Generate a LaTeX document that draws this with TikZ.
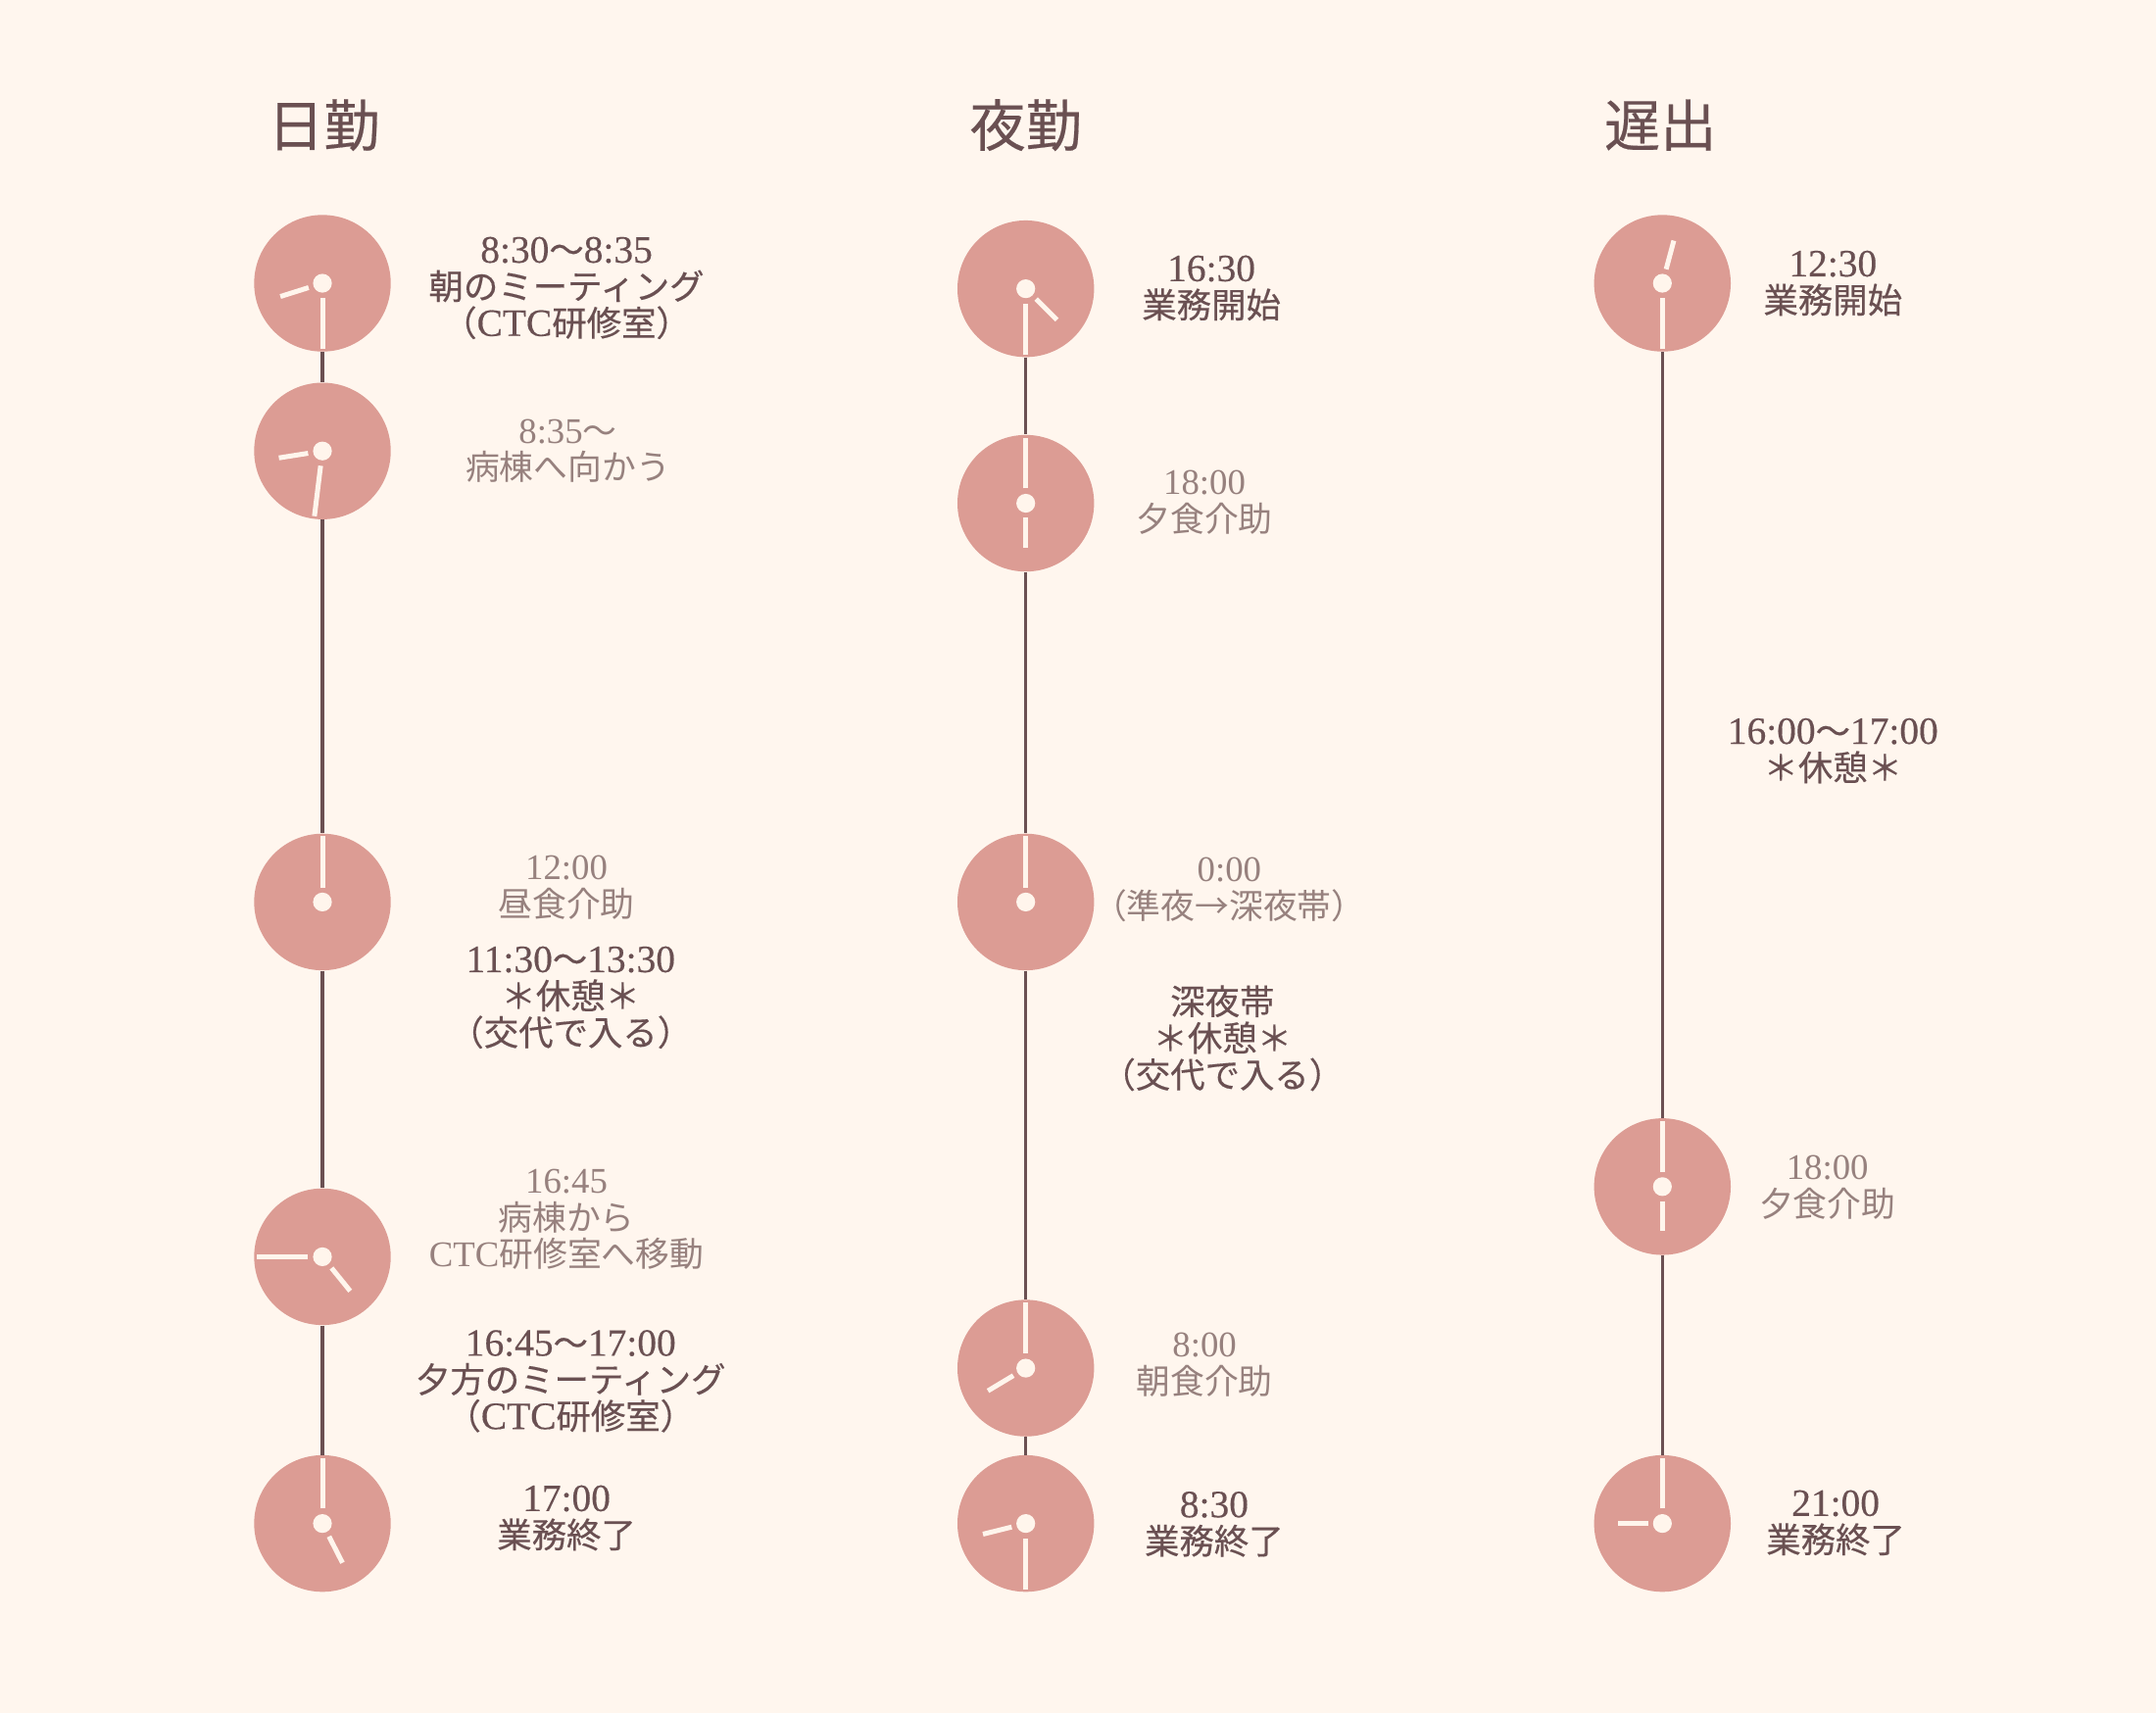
\documentclass[tikz,border=0pt]{standalone}
\usepackage{fontspec}
\setmainfont{Noto Sans CJK JP}
\newfontfamily\boldish[FakeBold=0.35]{Noto Sans CJK JP}
\newfontfamily\lat{Liberation Serif}
\newfontfamily\latb[FakeBold=0.35]{Liberation Serif}
\definecolor{bgc}{HTML}{FFF6EE}
\definecolor{disc}{HTML}{DC9C94}
\definecolor{handc}{HTML}{FFF5EC}
\definecolor{linec}{HTML}{6B5052}
\definecolor{darkt}{HTML}{6A5052}
\definecolor{lightt}{HTML}{97817E}
\newcommand{\Lt}[1]{{\latface\fontsize{\latsize}{25pt}\selectfont #1}}
\newcommand{\latface}{\lat}
\newcommand{\latsize}{19.5pt}
\tikzset{
  x=0.7015pt,y=-0.7015pt,
  face/.style={circle,fill=disc,draw=none,minimum size=69.7pt,inner sep=0pt},
  hub/.style={circle,fill=handc,draw=none,minimum size=9.6pt,inner sep=0pt},
  hand/.style={draw=handc,line width=2.5pt},
  link/.style={draw=linec,line width=1.7pt},
  title/.style={font=\boldish\fontsize{28.6pt}{32pt}\selectfont,text=darkt,inner sep=0pt},
  strong/.style={font=\boldish\renewcommand{\latface}{\latb}\renewcommand{\latsize}{19.7pt}\fontsize{17.7pt}{18.7pt}\selectfont,text=darkt,align=center,inner sep=0pt},
  faint/.style={font=\renewcommand{\latsize}{18.4pt}\fontsize{17.4pt}{18.7pt}\selectfont,text=lightt,align=center,inner sep=0pt}
}
% name, x, y, minute angle, hour angle
\newcommand{\clockface}[5]{%
  \node[face] (#1) at (#2,#3) {};
  \draw[hand,shift={(#1)}] (#4:7.6pt) -- (#4:33.5pt);
  \draw[hand,shift={(#1)}] (#5:7.4pt) -- (#5:22.5pt);
  \node[hub] (#1h) at (#1) {};
}
\begin{document}
\begin{tikzpicture}
\fill[bgc] (0,0) rectangle (1568,1246);
\useasboundingbox (0,0) rectangle (1568,1246);
% titles
\node[title] (t1) at (235.5,91) {日勤};
\node[title] (t2) at (746,91) {夜勤};
\node[title] (t3) at (1207.5,91) {遅出};
% clocks, column 1
\clockface{a}{234.5}{206}{270}{197.5}
\clockface{b}{234.5}{328}{263}{189}
\clockface{c}{234.5}{656}{90}{90}
\clockface{d}{234.5}{914}{180}{-51}
\clockface{e}{234.5}{1108}{90}{-63}
% column 2
\clockface{f}{746}{210}{270}{-45}
\clockface{g}{746}{366}{90}{270}
\clockface{h}{746}{656}{90}{90}
\clockface{i}{746}{995}{90}{211}
\clockface{j}{746}{1108}{270}{194}
% column 3
\clockface{k}{1209}{206}{270}{75}
\clockface{l}{1209}{863}{90}{270}
\clockface{m}{1209}{1108}{90}{180}
% connectors
\draw[link] (a) -- (b);
\draw[link] (b) -- (c);
\draw[link] (c) -- (d);
\draw[link] (d) -- (e);
\draw[link] (f) -- (g);
\draw[link] (g) -- (h);
\draw[link] (h) -- (i);
\draw[link] (i) -- (j);
\draw[link] (k) -- (l);
\draw[link] (l) -- (m);
% labels, column 1
\node[strong] (n1) at (412,209.5) {\Lt{8:30}〜\Lt{8:35}\\朝のミーティング\\（\Lt{CTC}研修室）};
\node[faint] (n2) at (413,328) {\Lt{8:35}〜\\病棟へ向かう};
\node[faint] (n3) at (412,645.5) {\Lt{12:00}\\昼食介助};
\node[strong] (n4) at (415,725.5) {\Lt{11:30}〜\Lt{13:30}\\＊休憩＊\\（交代で入る）};
\node[faint] (n5) at (412,887) {\Lt{16:45}\\病棟から\\\Lt{CTC}研修室へ移動};
\node[strong] (n6) at (415,1004.5) {\Lt{16:45}〜\Lt{17:00}\\夕方のミーティング\\（\Lt{CTC}研修室）};
\node[strong] (n7) at (412,1104) {\Lt{17:00}\\業務終了};
% labels, column 2
\node[strong] (n8) at (881,209.5) {\Lt{16:30}\\業務開始};
\node[faint] (n9) at (876,365.5) {\Lt{18:00}\\夕食介助};
\node[faint] (n10) at (894,647) {\Lt{0:00}\\（準夜→深夜帯）};
\node[strong] (n11) at (889,755) {深夜帯\\＊休憩＊\\（交代で入る）};
\node[faint] (n12) at (876,992.5) {\Lt{8:00}\\朝食介助};
\node[strong] (n13) at (883,1108.5) {\Lt{8:30}\\業務終了};
% labels, column 3
\node[strong] (n14) at (1333,206) {\Lt{12:30}\\業務開始};
\node[strong] (n15) at (1333,546) {\Lt{16:00}〜\Lt{17:00}\\＊休憩＊};
\node[faint] (n16) at (1329,863.5) {\Lt{18:00}\\夕食介助};
\node[strong] (n17) at (1335,1107.5) {\Lt{21:00}\\業務終了};
\end{tikzpicture}
\end{document}
